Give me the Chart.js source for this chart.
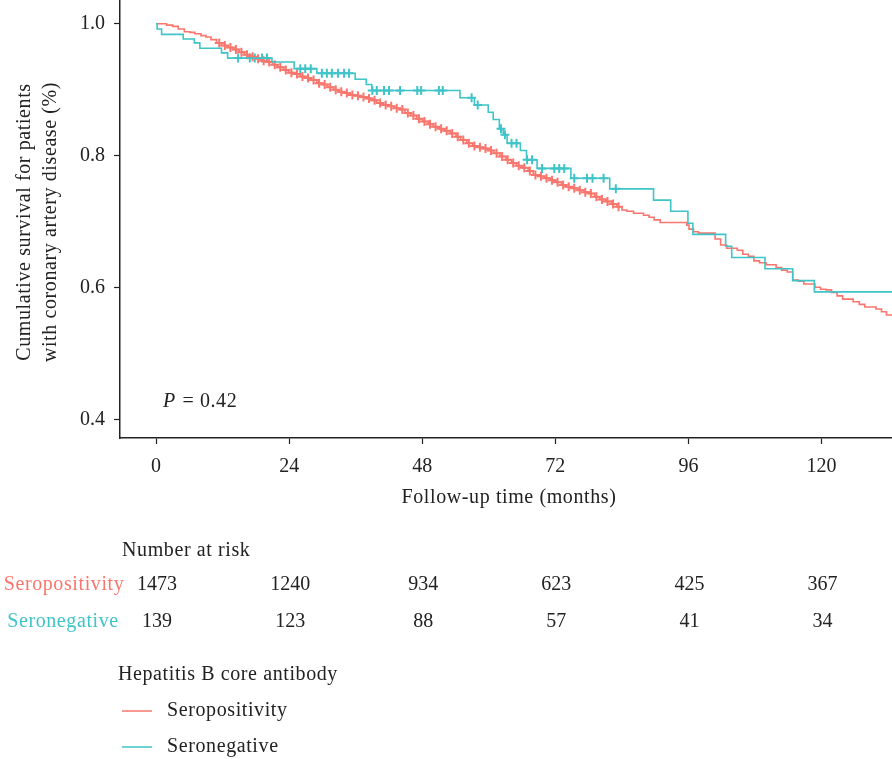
<!DOCTYPE html>
<html>
<head>
<meta charset="utf-8">
<script src="https://cdn.jsdelivr.net/npm/chart.js@4"></script>
<style>
  html, body { margin: 0; padding: 0; background: #fff; }
  #wrap { width: 892px; height: 759px; position: relative; }
</style>
</head>
<body>
<div id="wrap"><canvas id="kmChart" width="892" height="759"></canvas></div>
<script>
// Kaplan-Meier: seropositivity vs seronegative (HBcAb)
const xTicks = [0, 24, 48, 72, 96, 120];
const yTicks = [0.4, 0.6, 0.8, 1.0];

const posTimes = [0, 1.9, 3.0, 4.0, 5.1, 6.1, 7.0, 8.1, 9.0, 9.9, 10.9, 11.8, 12.9, 13.9, 15.0, 15.9, 17.0, 18.2, 19.1, 20.0,
  21.0, 21.9, 23.0, 23.9, 24.8, 26.0, 26.9, 27.9, 29.0, 30.0, 30.9, 32.0, 32.9, 33.9, 35.0, 35.9, 36.8, 37.9, 38.9, 39.8,
  41.0, 41.9, 42.9, 44.0, 44.9, 45.9, 47.0, 48.1, 49.1, 50.0, 51.1, 52.1, 53.0, 54.1, 54.9, 56.0, 57.1, 58.1, 59.0, 59.9,
  60.9, 62.0, 63.1, 64.1, 65.0, 66.1, 67.1, 68.0, 69.1, 70.1, 71.0, 72.1, 73.1, 74.0, 74.9, 76.1, 77.2, 78.1, 79.1, 80.0,
  81.1, 82.2, 83.1, 84.0, 84.9, 86.1, 87.9, 88.9, 89.8, 90.9, 95.7, 96.1, 96.9, 97.8, 100.8, 101.8, 102.9, 104.8, 105.8, 106.8,
  107.8, 108.8, 110.0, 111.8, 112.8, 113.8, 114.8, 115.8, 116.8, 118.8, 119.8, 120.8, 121.8, 122.8, 123.8, 125.7, 126.8, 127.8, 129.8, 130.8,
  131.7, 134];
const posSurv = [1.000, 0.998, 0.996, 0.992, 0.988, 0.987, 0.985, 0.982, 0.980, 0.976, 0.971, 0.967, 0.964, 0.961, 0.957, 0.953, 0.950, 0.947, 0.944, 0.942,
  0.938, 0.934, 0.930, 0.926, 0.924, 0.920, 0.918, 0.915, 0.910, 0.908, 0.904, 0.900, 0.897, 0.895, 0.892, 0.891, 0.889, 0.887, 0.884, 0.880,
  0.877, 0.875, 0.872, 0.870, 0.865, 0.861, 0.856, 0.852, 0.848, 0.844, 0.841, 0.838, 0.834, 0.829, 0.824, 0.819, 0.815, 0.813, 0.811, 0.808,
  0.804, 0.799, 0.794, 0.789, 0.785, 0.782, 0.777, 0.771, 0.769, 0.766, 0.763, 0.760, 0.756, 0.753, 0.751, 0.748, 0.745, 0.743, 0.738, 0.734,
  0.731, 0.727, 0.723, 0.718, 0.716, 0.713, 0.710, 0.707, 0.703, 0.699, 0.695, 0.689, 0.685, 0.683, 0.674, 0.665, 0.660, 0.657, 0.651, 0.648,
  0.641, 0.638, 0.635, 0.631, 0.627, 0.624, 0.612, 0.610, 0.606, 0.601, 0.598, 0.597, 0.593, 0.588, 0.583, 0.579, 0.575, 0.571, 0.568, 0.564,
  0.559, 0.556];
const posCensor = [11.4, 12.4, 13.4, 14.4, 15.4, 16.4, 17.4, 18.4, 19.4, 20.4, 21.4, 22.4, 23.4, 24.4, 25.4, 26.4, 27.4, 28.4, 29.4, 30.4,
  31.4, 32.4, 33.4, 34.4, 35.4, 36.4, 37.4, 38.4, 39.4, 40.4, 41.4, 42.4, 43.4, 44.4, 45.4, 46.4, 47.4, 48.4, 49.4, 50.4,
  51.4, 52.4, 53.4, 54.4, 55.4, 56.4, 57.4, 58.4, 59.4, 60.4, 61.4, 62.4, 63.4, 64.4, 65.4, 66.4, 67.4, 68.4, 69.4, 70.4,
  71.4, 72.4, 73.4, 74.4, 75.4, 76.4, 77.4, 78.4, 79.4, 80.4, 81.4, 82.4, 83.4];

const negTimes = [0, 0.2, 1.0, 4.9, 6.9, 7.9, 11.8, 12.9, 20.9, 24.9, 29.0, 35.9, 37.9, 38.9, 54.8, 57.4, 59.9, 60.8, 61.9, 62.6,
  63.3, 65.7, 66.8, 68.7, 74.8, 81.8, 89.7, 92.8, 95.9, 96.8, 102.7, 103.8, 109.8, 114.8, 118.7, 134];
const negSurv = [1.000, 0.992, 0.984, 0.977, 0.971, 0.963, 0.956, 0.948, 0.942, 0.932, 0.925, 0.916, 0.908, 0.899, 0.888, 0.877, 0.866, 0.855, 0.841, 0.832,
  0.819, 0.808, 0.794, 0.781, 0.766, 0.750, 0.733, 0.716, 0.698, 0.681, 0.663, 0.646, 0.629, 0.611, 0.594, 0.594];
const negCensor = [14.8, 16.9, 17.8, 19.1, 20.0, 26.0, 26.9, 27.9, 29.9, 30.8, 31.7, 32.8, 33.9, 34.8, 39.0, 39.8, 41.1, 42.0, 44.0, 47.1,
  47.8, 51.0, 51.7, 56.9, 58.0, 62.2, 62.9, 64.1, 65.0, 66.9, 67.8, 69.6, 71.8, 72.7, 73.6, 75.4, 77.7, 78.7, 80.7, 82.9];

const riskPos = [1473, 1240, 934, 623, 425, 367];
const riskNeg = [139, 123, 88, 57, 41, 34];

const RED = "#F8766D";
const TEAL = "#3FC4C8";
const FONT = '"Liberation Serif", "Times New Roman", serif';

function steps(times, surv) {
  return times.map((t, i) => ({ x: t, y: surv[i] }));
}
// place censor marks on the curve
function survAt(times, surv, t) {
  let s = surv[0];
  for (let i = 0; i < times.length; i++) if (times[i] <= t) s = surv[i];
  return s;
}
function marks(censor, times, surv) {
  return censor.map(t => ({ x: t, y: survAt(times, surv, t) }));
}

const extras = {
  id: "extras",
  afterDraw(chart) {
    const ctx = chart.ctx;
    const xs = chart.scales.x;
    const area = chart.chartArea;
    ctx.save();
    ctx.fillStyle = "#222";
    ctx.font = "20px " + FONT;
    ctx.letterSpacing = "0.6px";

    // y title
    ctx.save();
    ctx.textAlign = "center";
    ctx.textBaseline = "alphabetic";
    ctx.translate(30, 222);
    ctx.rotate(-Math.PI / 2);
    ctx.fillText("Cumulative survival for patients", 0, 0);
    ctx.fillText("with coronary artery disease (%)", 0, 26);
    ctx.restore();

    // x title
    ctx.textAlign = "center";
    ctx.textBaseline = "middle";
    ctx.fillText("Follow-up time (months)", (area.left + area.right) / 2 + 3, 498);

    // p value
    ctx.textAlign = "left";
    ctx.font = "italic 20px " + FONT;
    ctx.fillText("P", 163, 402);
    const pw = ctx.measureText("P").width;
    ctx.font = "20px " + FONT;
    ctx.fillText(" = 0.42", 163 + pw + 1, 402);

    // number at risk
    ctx.fillText("Number at risk", 122, 551);
    ctx.textAlign = "center";
    ctx.fillStyle = RED;
    ctx.fillText("Seropositivity", 64, 585);
    ctx.fillStyle = TEAL;
    ctx.fillText("Seronegative", 63, 622);
    ctx.fillStyle = "#222";
    ctx.letterSpacing = "0px";
    xTicks.forEach((t, i) => {
      const px = xs.getPixelForValue(t);
      ctx.fillText(String(riskPos[i]), px + 1, 585);
      ctx.fillText(String(riskNeg[i]), px + 1, 622);
    });
    ctx.letterSpacing = "0.6px";

    // legend
    ctx.textAlign = "left";
    ctx.fillText("Hepatitis B core antibody", 118, 675);
    [[RED, "Seropositivity", 711], [TEAL, "Seronegative", 747]].forEach(([c, label, y]) => {
      ctx.strokeStyle = c;
      ctx.lineWidth = 1.5;
      ctx.beginPath();
      ctx.moveTo(122, y);
      ctx.lineTo(152, y);
      ctx.stroke();
      ctx.fillStyle = "#222";
      ctx.fillText(label, 167, y);
    });
    ctx.restore();
  }
};

const ctxKm = document.getElementById("kmChart").getContext("2d");
const kmChart = new Chart(ctxKm, {
  type: "scatter",
  data: {
    datasets: [
      {
        label: "Seronegative",
        data: steps(negTimes, negSurv),
        showLine: true,
        stepped: true,
        borderColor: TEAL,
        borderWidth: 1.6,
        pointRadius: 0
      },
      {
        label: "Seropositivity",
        data: steps(posTimes, posSurv),
        showLine: true,
        stepped: true,
        borderColor: RED,
        borderWidth: 1.6,
        pointRadius: 0
      },
      {
        label: "pos censored",
        data: marks(posCensor, posTimes, posSurv),
        pointStyle: "cross",
        pointRadius: 4.5,
        pointBorderWidth: 2,
        borderColor: RED,
        backgroundColor: RED
      },
      {
        label: "neg censored",
        data: marks(negCensor, negTimes, negSurv),
        pointStyle: "cross",
        pointRadius: 4.5,
        pointBorderWidth: 2,
        borderColor: TEAL,
        backgroundColor: TEAL
      }
    ]
  },
  options: {
    responsive: false,
    animation: false,
    layout: { padding: 0, autoPadding: false },
    plugins: { legend: { display: false }, tooltip: { enabled: false } },
    scales: {
      x: {
        type: "linear",
        min: -6.5,
        max: 132.7,
        afterBuildTicks: s => { s.ticks = xTicks.map(v => ({ value: v })); },
        afterFit: s => { s.height = 321; s.paddingLeft = 0; s.paddingRight = 0; },
        grid: { drawOnChartArea: false, drawTicks: true, tickLength: 6, tickColor: "#222", tickWidth: 1.2 },
        border: { display: true, color: "#222", width: 1.5 },
        ticks: { color: "#222", font: { family: FONT, size: 20 }, padding: 11, maxRotation: 0 }
      },
      y: {
        type: "linear",
        min: 0.3727,
        max: 1.036,
        afterBuildTicks: s => { s.ticks = yTicks.map(v => ({ value: v })); },
        afterFit: s => { s.width = 120; s.paddingTop = 0; s.paddingBottom = 0; },
        grid: { drawOnChartArea: false, drawTicks: true, tickLength: 6, tickColor: "#222", tickWidth: 1.2 },
        border: { display: true, color: "#222", width: 1.5 },
        ticks: { color: "#222", font: { family: FONT, size: 20 }, padding: 9, callback: v => v.toFixed(1) }
      }
    }
  },
  plugins: [extras]
});
</script>
</body>
</html>
